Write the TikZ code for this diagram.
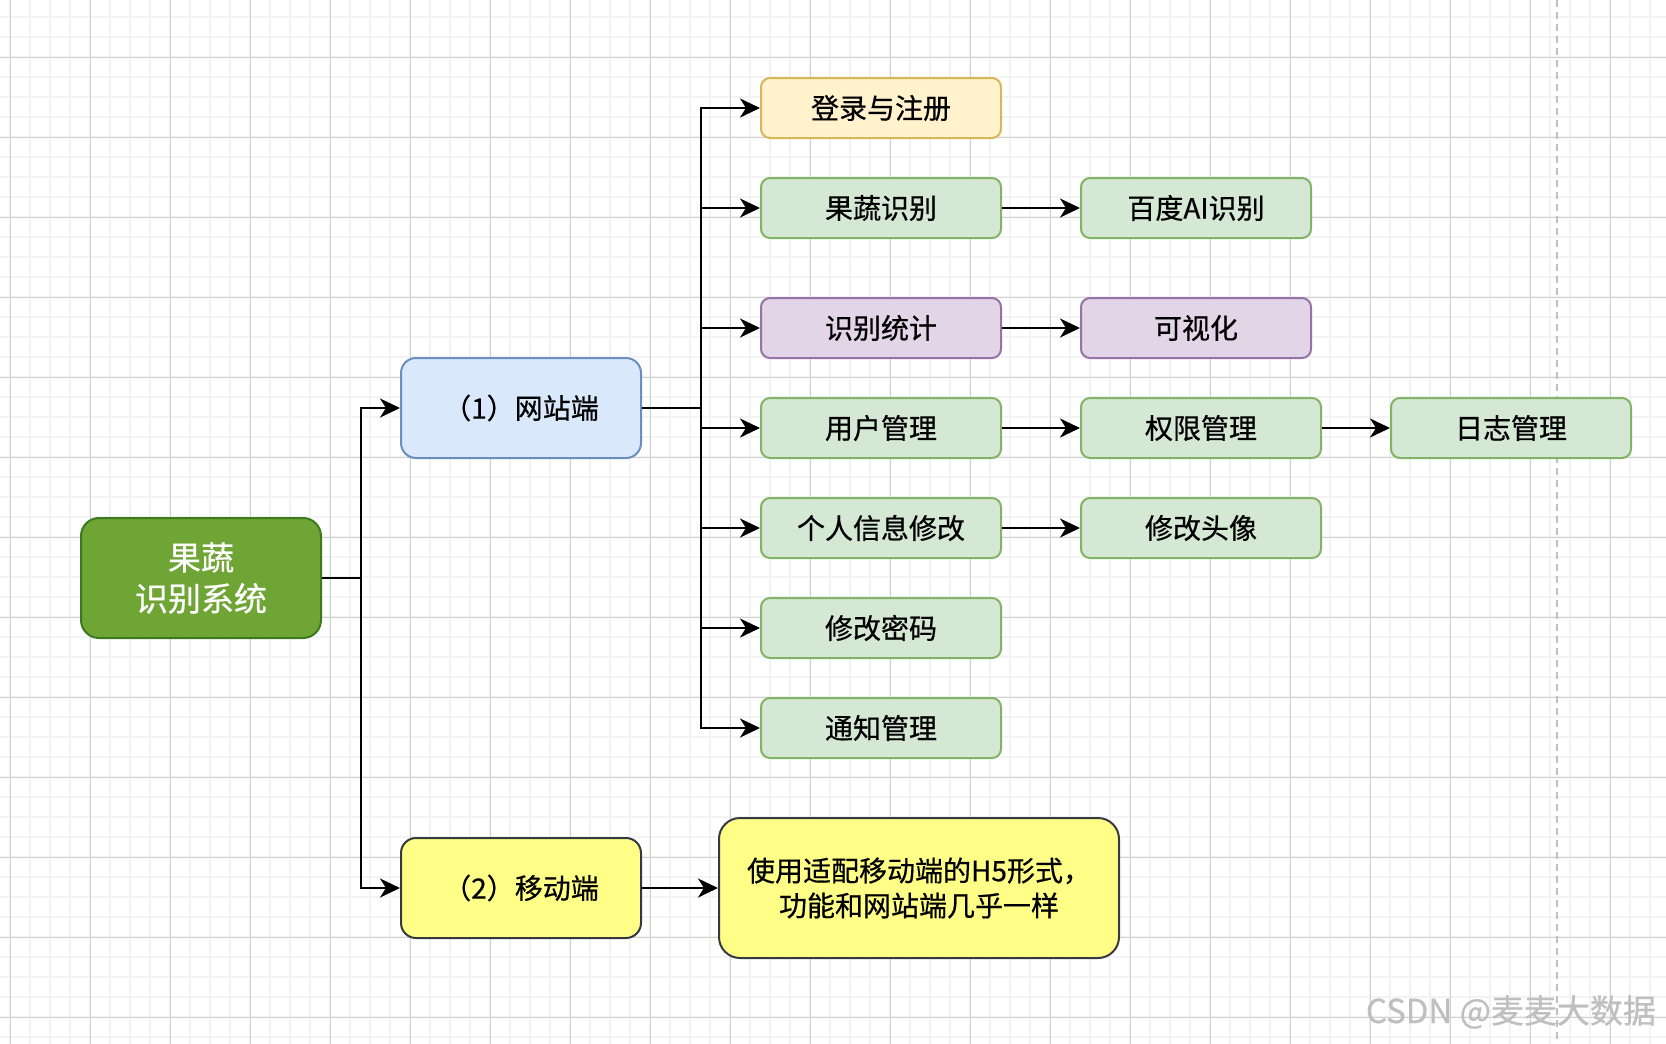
\documentclass[tikz,border=0pt]{standalone}
\usepackage{fontspec}
\setmainfont{Noto Sans CJK SC}[UprightFeatures={FakeBold=0.6}]
\usepackage{tikz}
\usetikzlibrary{arrows.meta,positioning}
\definecolor{rootfill}{HTML}{6FA535}
\definecolor{rootline}{HTML}{3D7A1E}
\definecolor{webfill}{HTML}{DAE8FC}
\definecolor{webline}{HTML}{6C8EBF}
\definecolor{loginfill}{HTML}{FFF2CC}
\definecolor{loginline}{HTML}{D6B656}
\definecolor{greenfill}{HTML}{D5E8D4}
\definecolor{greenline}{HTML}{82B366}
\definecolor{purplefill}{HTML}{E1D5E7}
\definecolor{purpleline}{HTML}{9673A6}
\definecolor{mobilefill}{HTML}{FFFF88}
\definecolor{mobileline}{HTML}{36393D}
\tikzstyle{box} = [draw, line width=1pt, rounded corners=4.5pt, inner sep=0pt, minimum width=120pt, minimum height=30pt, align=center, font=\fontsize{14pt}{17.5pt}\selectfont]
\tikzstyle{greenbox} = [box, fill=greenfill, draw=greenline]
\tikzstyle{purplebox} = [box, fill=purplefill, draw=purpleline]
\tikzstyle{loginbox} = [box, fill=loginfill, draw=loginline]
\tikzstyle{webbox} = [box, fill=webfill, draw=webline, minimum height=50pt, rounded corners=7.5pt]
\tikzstyle{mobilebox} = [box, fill=mobilefill, draw=mobileline, minimum height=50pt, rounded corners=7.5pt]
\tikzstyle{rootbox} = [box, fill=rootfill, draw=rootline, minimum height=60pt, rounded corners=9pt, text=white, font=\fontsize{16.5pt}{20.5pt}\selectfont]
\tikzstyle{arrow} = [line width=1.2pt, -{Stealth[length=10pt, width=9.5pt, inset=3pt]}]
\tikzstyle{minorgrid} = [line width=1pt, draw={rgb,255:red,243;green,243;blue,243}]
\tikzstyle{majorgrid} = [line width=0.5pt, draw={rgb,255:red,208;green,208;blue,208}]
\tikzstyle{pageline} = [line width=1pt, draw={rgb,255:red,192;green,192;blue,192}, dash pattern=on 3.5pt off 2.5pt]

\begin{document}
\begin{tikzpicture}[x=0.5pt,y=-0.5pt]
      \useasboundingbox (0,0) rectangle (1666,1044);
      \fill[white] (0,0) rectangle (1666,1044);
      % grid
      \foreach \i in {0,...,82} \draw[minorgrid] ({10+20*\i},0) -- ({10+20*\i},1044);
      \foreach \i in {0,...,51} \draw[minorgrid] (0,{17.3+20*\i}) -- (1666,{17.3+20*\i});
      \foreach \i in {0,...,20} \draw[majorgrid] ({10+80*\i},0) -- ({10+80*\i},1044);
      \foreach \i in {0,...,12} \draw[majorgrid] (0,{57.3+80*\i}) -- (1666,{57.3+80*\i});
      \draw[pageline] (1557,0) -- (1557,1044);
      %%%%%%%%%%%%%%%%%%%%%%%%%%%%%%%%%%%%%%%
      \node (root) at (201,578) [rootbox] {果蔬\\识别系统};
      \node (web) at (521,408) [webbox] {（1）网站端};
      \node (mobile) at (521,888) [mobilebox] {（2）移动端};
      \node (h5) at (919,888) [mobilebox, minimum width=200pt, minimum height=70pt, rounded corners=10.5pt] {使用适配移动端的H5形式，\\功能和网站端几乎一样};
      \node (login) at (881,108) [loginbox] {登录与注册};
      \node (fruit) at (881,208) [greenbox] {果蔬识别};
      \node (stat) at (881,328) [purplebox] {识别统计};
      \node (user) at (881,428) [greenbox] {用户管理};
      \node (info) at (881,528) [greenbox] {个人信息修改};
      \node (pwd) at (881,628) [greenbox] {修改密码};
      \node (notice) at (881,728) [greenbox] {通知管理};
      \node (baidu) at (1196,208) [greenbox, minimum width=115pt] {百度AI识别};
      \node (vis) at (1196,328) [purplebox, minimum width=115pt] {可视化};
      \node (perm) at (1201,428) [greenbox] {权限管理};
      \node (avatar) at (1201,528) [greenbox] {修改头像};
      \node (log) at (1511,428) [greenbox] {日志管理};
      \node (csdn) at (1663,1012) [anchor=east, text=black!25, font=\fontsize{16.5pt}{16.5pt}\selectfont] {CSDN @麦麦大数据};
      %%%%%%%%%%%%%%%%%%%%%%%%%%%%%%%%%%%%%%%
      \coordinate (j1) at (361,578);
      \coordinate (j2) at (701,408);
      \draw[arrow] (root.east) -- (j1) |- (web.west);
      \draw[arrow] (root.east) -- (j1) |- (mobile.west);
      \foreach \n in {login,fruit,stat,user,info,pwd,notice}
        \draw[arrow] (web.east) -- (j2) |- (\n.west);
      \draw[arrow] (mobile) -- (h5);
      \draw[arrow] (fruit) -- (baidu);
      \draw[arrow] (stat) -- (vis);
      \draw[arrow] (user) -- (perm);
      \draw[arrow] (perm) -- (log);
      \draw[arrow] (info) -- (avatar);
\end{tikzpicture}
\end{document}
